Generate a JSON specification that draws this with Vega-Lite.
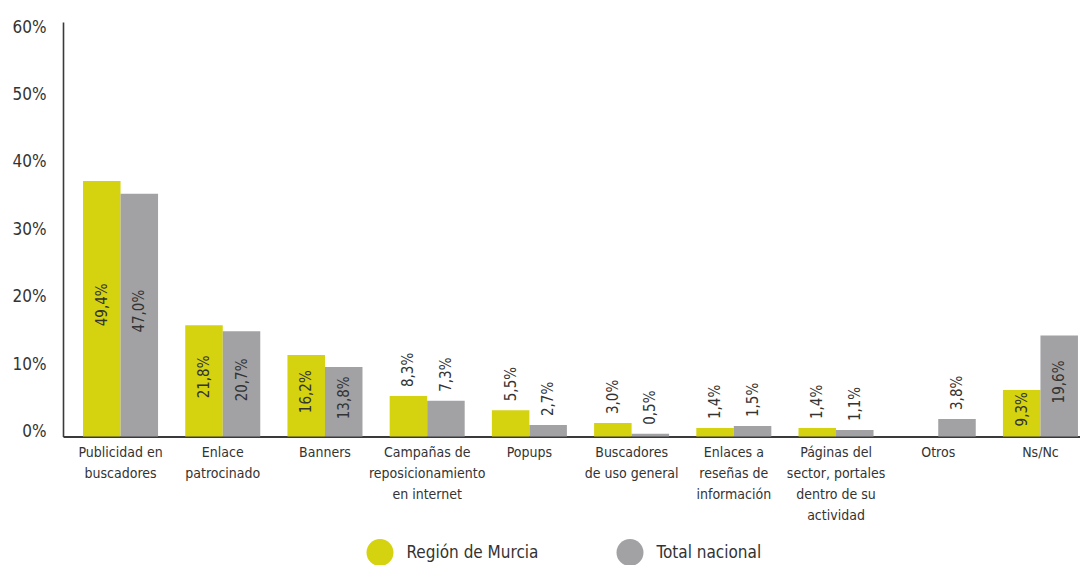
{
  "$schema": "https://vega.github.io/schema/vega-lite/v6.json",
  "autosize": {"type": "none"},
  "padding": {"left": 63, "top": 22, "right": 0, "bottom": 128.5},
  "width": 1017,
  "height": 414.5,
  "background": "white",
  "config": {
    "view": {"stroke": null},
    "font": "DejaVu Sans Condensed, sans-serif",
    "axis": {"grid": false, "labelColor": "#333333", "labelFont": "DejaVu Sans Condensed, sans-serif"},
    "legend": {"labelFont": "DejaVu Sans Condensed, sans-serif"}
  },
  "data": {
    "values": [
      {"cat": "Publicidad en|buscadores", "serie": "Región de Murcia", "barra": 37.9, "etiqueta": "49,4%"},
      {"cat": "Publicidad en|buscadores", "serie": "Total nacional", "barra": 36.0, "etiqueta": "47,0%"},
      {"cat": "Enlace|patrocinado", "serie": "Región de Murcia", "barra": 16.5, "etiqueta": "21,8%"},
      {"cat": "Enlace|patrocinado", "serie": "Total nacional", "barra": 15.6, "etiqueta": "20,7%"},
      {"cat": "Banners", "serie": "Región de Murcia", "barra": 12.1, "etiqueta": "16,2%"},
      {"cat": "Banners", "serie": "Total nacional", "barra": 10.3, "etiqueta": "13,8%"},
      {"cat": "Campañas de|reposicionamiento|en internet", "serie": "Región de Murcia", "barra": 6.0, "etiqueta": "8,3%"},
      {"cat": "Campañas de|reposicionamiento|en internet", "serie": "Total nacional", "barra": 5.3, "etiqueta": "7,3%"},
      {"cat": "Popups", "serie": "Región de Murcia", "barra": 3.9, "etiqueta": "5,5%"},
      {"cat": "Popups", "serie": "Total nacional", "barra": 1.7, "etiqueta": "2,7%"},
      {"cat": "Buscadores|de uso general", "serie": "Región de Murcia", "barra": 2.0, "etiqueta": "3,0%"},
      {"cat": "Buscadores|de uso general", "serie": "Total nacional", "barra": 0.4, "etiqueta": "0,5%"},
      {"cat": "Enlaces a|reseñas de|información", "serie": "Región de Murcia", "barra": 1.25, "etiqueta": "1,4%"},
      {"cat": "Enlaces a|reseñas de|información", "serie": "Total nacional", "barra": 1.55, "etiqueta": "1,5%"},
      {"cat": "Páginas del|sector, portales|dentro de su|actividad", "serie": "Región de Murcia", "barra": 1.25, "etiqueta": "1,4%"},
      {"cat": "Páginas del|sector, portales|dentro de su|actividad", "serie": "Total nacional", "barra": 0.95, "etiqueta": "1,1%"},
      {"cat": "Otros", "serie": "Total nacional", "barra": 2.6, "etiqueta": "3,8%"},
      {"cat": "Ns/Nc", "serie": "Región de Murcia", "barra": 6.9, "etiqueta": "9,3%"},
      {"cat": "Ns/Nc", "serie": "Total nacional", "barra": 15.0, "etiqueta": "19,6%"}
    ]
  },
  "encoding": {
    "x": {
      "field": "cat", "type": "nominal", "sort": null,
      "scale": {"range": [0, 1035], "paddingInner": 0.266, "paddingOuter": 0.196},
      "axis": {
        "title": null, "ticks": false, "tickSize": 0, "labelAngle": 0,
        "labelFontSize": 14, "labelPadding": 9, "labelBaseline": "top", "labelLineHeight": 21,
        "labelExpr": "split(datum.label, '|')", "labelLimit": 300,
        "domainColor": "#3a3a3a", "domainWidth": 2
      }
    },
    "xOffset": {"field": "serie", "type": "nominal", "scale": {"domain": ["Región de Murcia", "Total nacional"], "paddingInner": 0, "paddingOuter": 0}}
  },
  "layer": [
    {
      "mark": {"type": "bar"},
      "encoding": {
        "y": {
          "field": "barra", "type": "quantitative",
          "scale": {"domain": [0, 61.5], "nice": false},
          "axis": {
            "title": null, "values": [0, 10, 20, 30, 40, 50, 60], "ticks": false, "tickSize": 0,
            "labelFontSize": 17, "labelPadding": 17, "labelBaseline": "alphabetic",
            "labelExpr": "datum.value + '%'",
            "domainColor": "#3a3a3a", "domainWidth": 1.6
          }
        },
        "color": {
          "field": "serie", "type": "nominal",
          "scale": {"domain": ["Región de Murcia", "Total nacional"], "range": ["#d5d20f", "#a2a2a5"]},
          "legend": {
            "title": null, "orient": "none", "direction": "horizontal", "columns": 2,
            "legendX": 303.5, "legendY": 517, "padding": 0,
            "symbolType": "circle", "symbolSize": 729, "symbolStrokeWidth": 0, "symbolOpacity": 1,
            "labelFontSize": 17, "labelColor": "#333333", "labelOffset": 13, "columnPadding": 78
          }
        }
      }
    },
    {
      "transform": [{"filter": "datum.barra >= 6.5"}],
      "mark": {"type": "text", "angle": 270, "align": "center", "baseline": "middle", "fontSize": 15, "color": "#333333", "dx": 4},
      "encoding": {
        "y": {"field": "barra", "type": "quantitative", "scale": {"domain": [0, 123], "nice": false}, "axis": null},
        "text": {"field": "etiqueta"}
      }
    },
    {
      "transform": [{"filter": "datum.barra < 6.5"}],
      "mark": {"type": "text", "angle": 270, "align": "left", "baseline": "middle", "fontSize": 15, "color": "#333333", "dx": 9},
      "encoding": {
        "y": {"field": "barra", "type": "quantitative", "scale": {"domain": [0, 61.5], "nice": false}, "axis": null},
        "text": {"field": "etiqueta"}
      }
    }
  ],
  "resolve": {"scale": {"y": "independent"}}
}
